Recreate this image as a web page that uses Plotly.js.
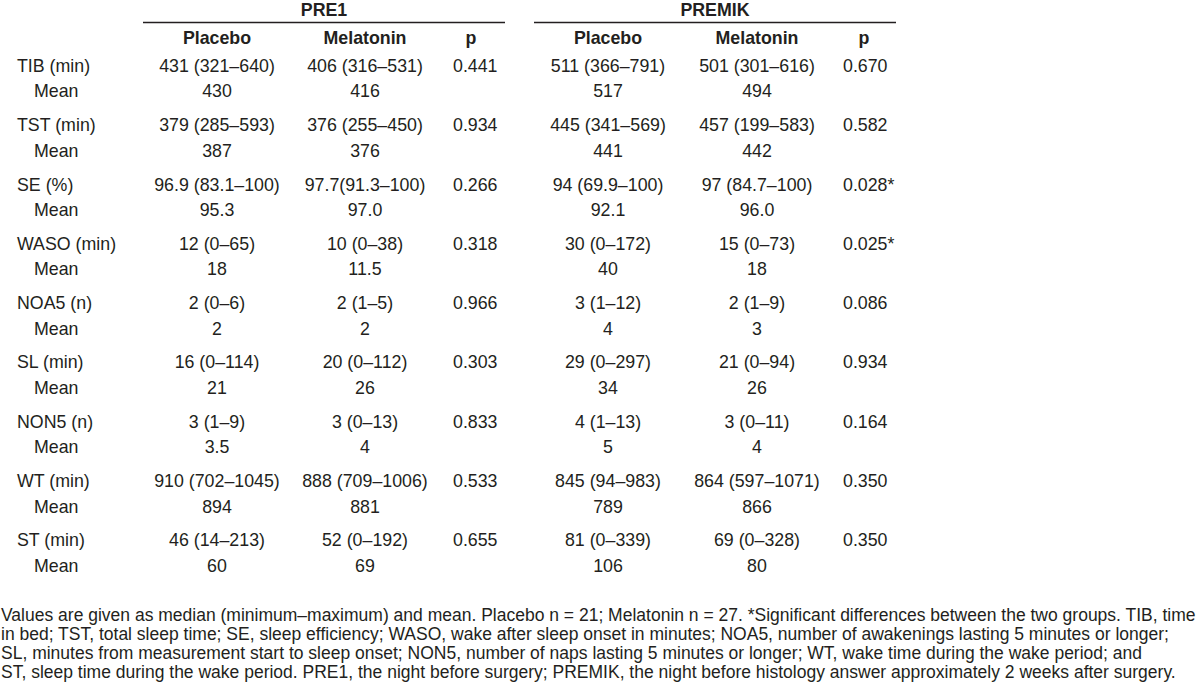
<!DOCTYPE html>
<html>
<head>
<meta charset="utf-8">
<script src="https://cdn.plot.ly/plotly-3.0.1.min.js"></script>
<style>
  html, body { margin: 0; padding: 0; background: #fff; overflow: hidden; }
  #chart { width: 1200px; height: 699px; }
</style>
</head>
<body>
<div id="chart"></div>
<script>
// ---------- DATA ----------
const groups = ["PRE1", "PREMIK"];
const columnHeaders = ["Placebo", "Melatonin", "p"];
const variables = ["TIB (min)", "TST (min)", "SE (%)", "WASO (min)", "NOA5 (n)", "SL (min)", "NON5 (n)", "WT (min)", "ST (min)"];
const meanLabel = "Mean";

const pre1PlaceboMedian = ["431 (321–640)", "379 (285–593)", "96.9 (83.1–100)", "12 (0–65)", "2 (0–6)", "16 (0–114)", "3 (1–9)", "910 (702–1045)", "46 (14–213)"];
const pre1PlaceboMean = ["430", "387", "95.3", "18", "2", "21", "3.5", "894", "60"];
const pre1MelatoninMedian = ["406 (316–531)", "376 (255–450)", "97.7(91.3–100)", "10 (0–38)", "2 (1–5)", "20 (0–112)", "3 (0–13)", "888 (709–1006)", "52 (0–192)"];
const pre1MelatoninMean = ["416", "376", "97.0", "11.5", "2", "26", "4", "881", "69"];
const pre1P = ["0.441", "0.934", "0.266", "0.318", "0.966", "0.303", "0.833", "0.533", "0.655"];

const premikPlaceboMedian = ["511 (366–791)", "445 (341–569)", "94 (69.9–100)", "30 (0–172)", "3 (1–12)", "29 (0–297)", "4 (1–13)", "845 (94–983)", "81 (0–339)"];
const premikPlaceboMean = ["517", "441", "92.1", "40", "4", "34", "5", "789", "106"];
const premikMelatoninMedian = ["501 (301–616)", "457 (199–583)", "97 (84.7–100)", "15 (0–73)", "2 (1–9)", "21 (0–94)", "3 (0–11)", "864 (597–1071)", "69 (0–328)"];
const premikMelatoninMean = ["494", "442", "96.0", "18", "3", "26", "4", "866", "80"];
const premikP = ["0.670", "0.582", "0.028*", "0.025*", "0.086", "0.934", "0.164", "0.350", "0.350"];

const footnoteLines = [
  "Values are given as median (minimum–maximum) and mean. Placebo n = 21; Melatonin n = 27. *Significant differences between the two groups. TIB, time",
  "in bed; TST, total sleep time; SE, sleep efficiency; WASO, wake after sleep onset in minutes; NOA5, number of awakenings lasting 5 minutes or longer;",
  "SL, minutes from measurement start to sleep onset; NON5, number of naps lasting 5 minutes or longer; WT, wake time during the wake period; and",
  "ST, sleep time during the wake period. PRE1, the night before surgery; PREMIK, the night before histology answer approximately 2 weeks after surgery."
];

// ---------- LAYOUT CONSTANTS ----------
const W = 1200, H = 699;
const FONT = '"Liberation Sans", Arial, Helvetica, sans-serif';
const TXT = '#231f20';
const bodySize = 17.8;
const rowTop = 67.5, rowPitch = 59.3, meanOffset = 25.5;
const labelX = 17, meanX = 34;
const colCenters = { pre1Pl: 217, pre1Mel: 365, pre1P: 453, premikPl: 608, premikMel: 757, premikP: 843 };
const pHeaderX = { pre1: 471, premik: 864 };
const groupLines = [[143, 505], [534, 896]];
const groupTitleY = 11.5, groupLineY = 22.5, headerY = 39.5;
const footTop = 615, footPitch = 19, footSize = 17.5;

const mainY = variables.map((_, i) => rowTop + i * rowPitch);
const meanY = variables.map((_, i) => rowTop + i * rowPitch + meanOffset);

function textTrace(xs, ys, texts, pos, opts) {
  opts = opts || {};
  return {
    type: 'scatter', mode: 'text', x: xs, y: ys, text: texts,
    textposition: pos, hoverinfo: 'skip', showlegend: false,
    textfont: { family: FONT, size: opts.size || bodySize, color: TXT, weight: opts.weight || 'normal' },
    cliponaxis: false
  };
}
const rep = (v, k) => Array(k).fill(v);
const n = variables.length;

const traces = [
  // row labels
  textTrace(rep(labelX, n), mainY, variables, 'middle right'),
  textTrace(rep(meanX, n), meanY, rep(meanLabel, n), 'middle right'),
  // PRE1
  textTrace(rep(colCenters.pre1Pl, n), mainY, pre1PlaceboMedian, 'middle center'),
  textTrace(rep(colCenters.pre1Pl, n), meanY, pre1PlaceboMean, 'middle center'),
  textTrace(rep(colCenters.pre1Mel, n), mainY, pre1MelatoninMedian, 'middle center'),
  textTrace(rep(colCenters.pre1Mel, n), meanY, pre1MelatoninMean, 'middle center'),
  textTrace(rep(colCenters.pre1P, n), mainY, pre1P, 'middle right'),
  // PREMIK
  textTrace(rep(colCenters.premikPl, n), mainY, premikPlaceboMedian, 'middle center'),
  textTrace(rep(colCenters.premikPl, n), meanY, premikPlaceboMean, 'middle center'),
  textTrace(rep(colCenters.premikMel, n), mainY, premikMelatoninMedian, 'middle center'),
  textTrace(rep(colCenters.premikMel, n), meanY, premikMelatoninMean, 'middle center'),
  textTrace(rep(colCenters.premikP, n), mainY, premikP, 'middle right'),
  // column headers
  textTrace([colCenters.pre1Pl, colCenters.pre1Mel, pHeaderX.pre1, colCenters.premikPl, colCenters.premikMel, pHeaderX.premik],
            rep(headerY, 6), columnHeaders.concat(columnHeaders), 'middle center', { weight: 'bold' }),
  // group titles
  textTrace([(groupLines[0][0] + groupLines[0][1]) / 2, (groupLines[1][0] + groupLines[1][1]) / 2],
            rep(groupTitleY, 2), groups, 'middle center', { weight: 'bold' })
];

const shapes = groupLines.map(g => ({
  type: 'line', xref: 'x', yref: 'y', x0: g[0], x1: g[1], y0: groupLineY, y1: groupLineY,
  line: { color: TXT, width: 1.5 }
}));

const annotations = footnoteLines.map((t, i) => ({
  xref: 'x', yref: 'y', x: 0, y: footTop + i * footPitch, xanchor: 'left', yanchor: 'middle',
  text: t, showarrow: false, align: 'left', borderpad: 0,
  font: { family: FONT, size: footSize, color: TXT }
}));

const layout = {
  width: W, height: H,
  margin: { l: 0, r: 0, t: 0, b: 0 },
  paper_bgcolor: '#fff', plot_bgcolor: '#fff',
  xaxis: { range: [0, W], visible: false, fixedrange: true },
  yaxis: { range: [H, 0], visible: false, fixedrange: true },
  shapes: shapes,
  annotations: annotations,
  showlegend: false
};

Plotly.newPlot('chart', traces, layout, { displayModeBar: false, staticPlot: true });
</script>
</body>
</html>
